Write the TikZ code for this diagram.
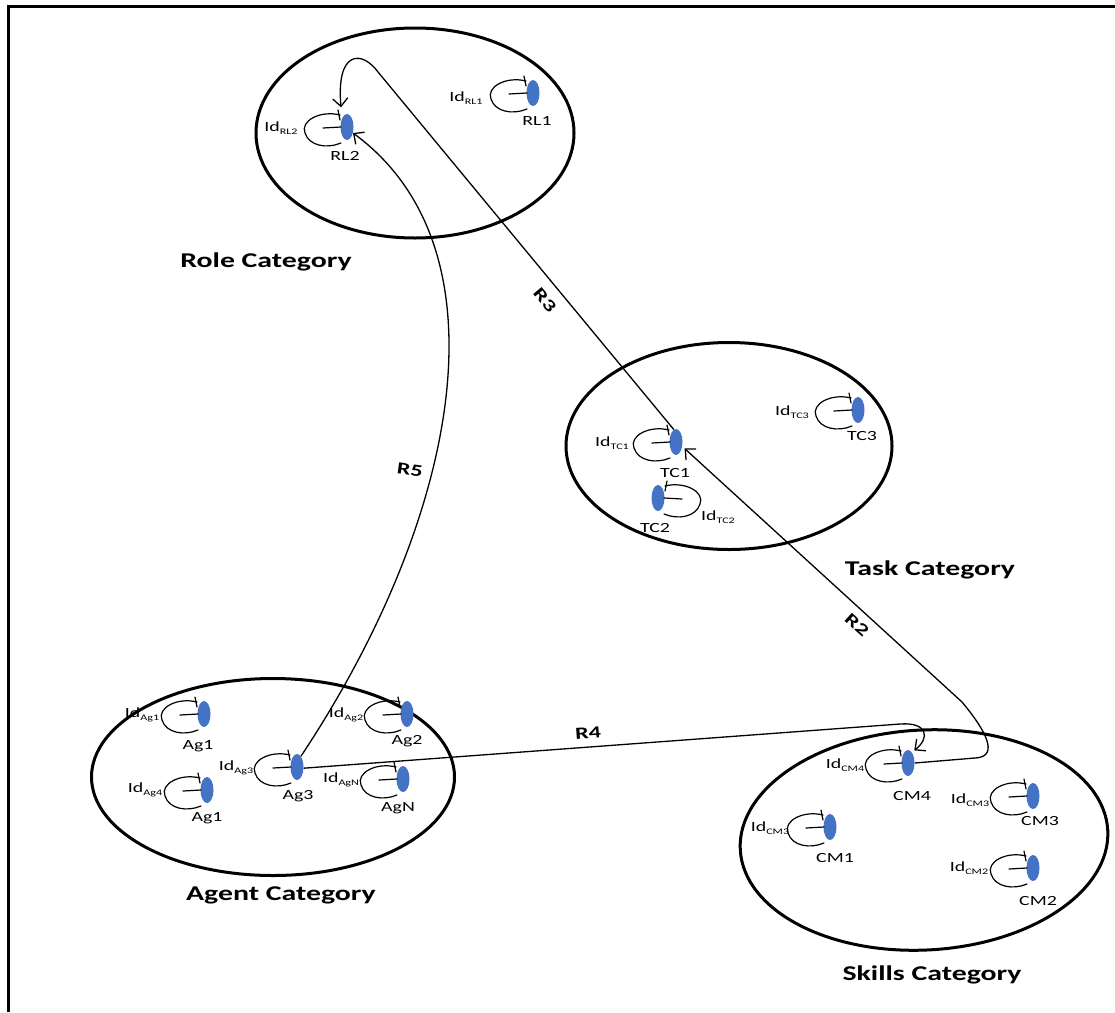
\documentclass[tikz,border=0pt]{standalone}
\usepackage{fontspec}
\setmainfont{Carlito}[FakeStretch=1.42]
\usetikzlibrary{shapes.geometric,arrows.meta,calc}

\definecolor{dotblue}{HTML}{4472C4}

% "Id" with a small lowered index
\newcommand\idtext[1]{Id\raisebox{-0.45ex}{\fontsize{8.5}{9}\selectfont #1}}

\tikzset{
  frame/.style={line width=3pt},
  category/.style={ellipse, draw, line width=3pt, inner sep=0pt},
  entity/.style={ellipse, fill=dotblue, inner sep=0pt, minimum width=13pt, minimum height=26pt},
  loopline/.style={line width=1.2pt, line cap=round},
  conn/.style={line width=1.3pt, -{Straight Barb[length=8pt,width=15pt,line width=1.3pt]}},
  idlabel/.style={font=\fontsize{14}{14}\selectfont, inner sep=0pt},
  namelabel/.style={font=\fontsize{14}{14}\selectfont, inner sep=0pt},
  catlabel/.style={font=\fontsize{21}{21}\selectfont\bfseries, inner sep=0pt},
  rlabel/.style={font=\fontsize{17}{17}\selectfont\bfseries, inner sep=0pt},
}

% identity loop drawn beside an entity; optional argument -1 puts it on the right
\newcommand\selfloop[2][1]{%
  \begin{scope}[shift={(#2.center)}, xscale=#1]
    \draw[loopline] (-7,-12) .. controls (-27,-17) and (-47,-6) .. (-42,6)
                             .. controls (-38,19) and (-20,22) .. (-6,16);
    \draw[loopline] (-9,-17) -- (-7,-7);
    \draw[loopline] (-24,1) -- (-6,0);
  \end{scope}}

\begin{document}
\begin{tikzpicture}[x=1pt,y=-1pt]
\useasboundingbox (0,0) rectangle (1115,1012);

% page frame (top and left edges)
\draw[frame] (8.5,1012) -- (8.5,6.5) -- (1115,6.5);

% categories
\node[category, minimum width=318pt, minimum height=210pt] (rolecat)  at (415,133) {};
\node[category, minimum width=326pt, minimum height=207pt] (taskcat)  at (729,446) {};
\node[category, minimum width=363pt, minimum height=197pt] (agentcat) at (273,777) {};
\node[category, minimum width=368pt, minimum height=220pt, rotate=3] (skillcat) at (924,840) {};

\node[catlabel] (rolelbl)  at (266,262) {Role Category};
\node[catlabel] (tasklbl)  at (930,570) {Task Category};
\node[catlabel] (agentlbl) at (281,895) {Agent Category};
\node[catlabel] (skilllbl) at (932,975) {Skills Category};

% entities
\node[entity] (RL2) at (347,127) {};
\node[entity] (RL1) at (533,93) {};
\node[entity] (TC1) at (676,442) {};
\node[entity] (TC3) at (858,410) {};
\node[entity] (TC2) at (658,498) {};
\node[entity] (Ag1) at (204,714) {};
\node[entity] (Ag2) at (407,714) {};
\node[entity] (Ag3) at (297,767) {};
\node[entity] (Ag4) at (207,790) {};
\node[entity] (AgN) at (403,779) {};
\node[entity] (CM4) at (908,763) {};
\node[entity] (CM3) at (1033,796) {};
\node[entity] (CM1) at (830,827) {};
\node[entity] (CM2) at (1033,868) {};

% identity loops
\selfloop{RL2} \selfloop{RL1}
\selfloop{TC1} \selfloop{TC3} \selfloop[-1]{TC2}
\selfloop{Ag1} \selfloop{Ag2} \selfloop{Ag3} \selfloop{Ag4} \selfloop{AgN}
\selfloop{CM4} \selfloop{CM3} \selfloop{CM1} \selfloop{CM2}

% identity labels
\node[idlabel] (idRL2) at (281,128) {\idtext{RL2}};
\node[idlabel] (idRL1) at (466,98)  {\idtext{RL1}};
\node[idlabel] (idTC1) at (612,443) {\idtext{TC1}};
\node[idlabel] (idTC3) at (792,412) {\idtext{TC3}};
\node[idlabel] (idTC2) at (718,517) {\idtext{TC2}};
\node[idlabel] (idAg1) at (142,715) {\idtext{Ag1}};
\node[idlabel] (idAg2) at (346,715) {\idtext{Ag2}};
\node[idlabel] (idAg3) at (236,768) {\idtext{Ag3}};
\node[idlabel] (idAg4) at (145,790) {\idtext{Ag4}};
\node[idlabel] (idAgN) at (341,780) {\idtext{AgN}};
\node[idlabel] (idCM4) at (845,765) {\idtext{CM4}};
\node[idlabel] (idCM3) at (970,800) {\idtext{CM3}};
\node[idlabel] (idCM1) at (770,828) {\idtext{CM3}};
\node[idlabel] (idCM2) at (969,868) {\idtext{CM2}};

% entity names
\node[namelabel] (nRL2) at (345,156) {RL2};
\node[namelabel] (nRL1) at (537,121) {RL1};
\node[namelabel] (nTC1) at (675,473) {TC1};
\node[namelabel] (nTC3) at (862,436) {TC3};
\node[namelabel] (nTC2) at (655,528) {TC2};
\node[namelabel] (nAg1) at (198,746) {Ag1};
\node[namelabel] (nAg2) at (407,741) {Ag2};
\node[namelabel] (nAg3) at (298,796) {Ag3};
\node[namelabel] (nAg4) at (207,818) {Ag1};
\node[namelabel] (nAgN) at (398,808) {AgN};
\node[namelabel] (nCM4) at (912,796) {CM4};
\node[namelabel] (nCM3) at (1040,821) {CM3};
\node[namelabel] (nCM1) at (835,858) {CM1};
\node[namelabel] (nCM2) at (1038,901) {CM2};

% relations
\draw[conn] (Ag3.70) .. controls (458,520) and (512,250) .. (RL2.-45);
\draw[conn, shorten >=11pt] (TC1.100) -- (378,72) .. controls (362,50) and (336,50) .. (RL2.120);
\draw[conn, shorten >=3pt] (CM4.east) -- (975,758) .. controls (996,757) and (992,738) .. (962,702) -- (TC1.-35);
\draw[conn, shorten >=3pt] (Ag3.-10) -- (900,724) .. controls (928,722) and (930,738) .. (CM4.70);

\node[rlabel, rotate=-50] (r3) at (545,300) {R3};
\node[rlabel, rotate=-8]  (r5) at (410,470) {R5};
\node[rlabel, rotate=-42] (r2) at (857,625) {R2};
\node[rlabel, rotate=4]   (r4) at (588,733) {R4};
\end{tikzpicture}
\end{document}
